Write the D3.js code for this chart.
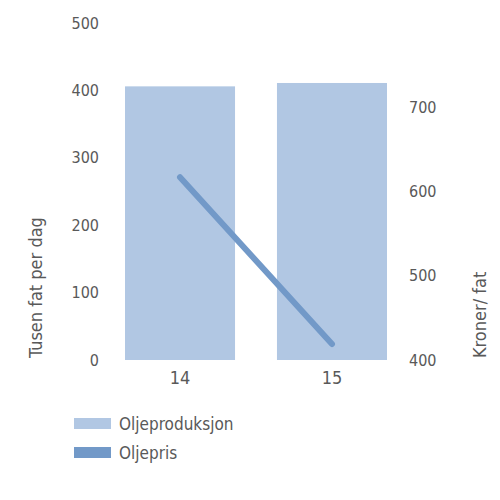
<!DOCTYPE html>
<html>
<head>
<meta charset="utf-8">
<script src="https://cdn.jsdelivr.net/npm/d3@7"></script>
<style>
  body { margin: 0; background: #fff; }
  text { font-family: "DejaVu Sans Condensed", "Roboto", sans-serif; fill: #595959; }
</style>
</head>
<body>
<svg width="500" height="500"></svg>
<script>
// data
var years = ["14", "15"];
var oljeproduksjon = [406, 411];
var oljepris = [617, 419];
var leftTicks = [0, 100, 200, 300, 400, 500];
var rightTicks = [400, 500, 600, 700];

var svg = d3.select("svg");

var barColor = "#b1c7e3";
var lineColor = "#7299c8";

var x = d3.scaleBand().domain(years).range([101, 411]).paddingInner(0.276).paddingOuter(0.158);
var yLeft = d3.scaleLinear().domain([0, 500]).range([360, 23]);
var yRight = d3.scaleLinear().domain([400, 800]).range([360, 23]);

// bars
svg.selectAll("rect.bar")
  .data(years)
  .enter()
  .append("rect")
  .attr("class", "bar")
  .attr("x", function(d) { return x(d); })
  .attr("width", x.bandwidth())
  .attr("y", function(d, i) { return yLeft(oljeproduksjon[i]); })
  .attr("height", function(d, i) { return yLeft(0) - yLeft(oljeproduksjon[i]); })
  .attr("fill", barColor);

// price line
var line = d3.line()
  .x(function(d, i) { return x(years[i]) + x.bandwidth() / 2; })
  .y(function(d) { return yRight(d); });

svg.append("path")
  .datum(oljepris)
  .attr("d", line)
  .attr("fill", "none")
  .attr("stroke", lineColor)
  .attr("stroke-width", 6)
  .attr("stroke-linecap", "round");

// left axis
var gl = svg.append("g")
  .attr("transform", "translate(99,0)")
  .call(d3.axisLeft(yLeft).tickValues(leftTicks).tickSize(0).tickPadding(0));
gl.select(".domain").remove();

// right axis
var gr = svg.append("g")
  .attr("transform", "translate(409,0)")
  .call(d3.axisRight(yRight).tickValues(rightTicks).tickSize(0).tickPadding(0));
gr.select(".domain").remove();

// bottom axis
var gb = svg.append("g")
  .attr("transform", "translate(0,371)")
  .call(d3.axisBottom(x).tickSize(0).tickPadding(0));
gb.select(".domain").remove();

svg.selectAll(".tick text")
  .attr("font-family", null)
  .style("font-size", "16px")
  .style("fill", "#595959");
gb.selectAll(".tick text").style("font-size", "18px").attr("dy", "0.71em");

// axis titles
svg.append("text")
  .attr("transform", "translate(42,358) rotate(-90)")
  .style("font-size", "18px")
  .text("Tusen fat per dag");

svg.append("text")
  .attr("transform", "translate(486,358) rotate(-90)")
  .style("font-size", "18px")
  .text("Kroner/ fat");

// legend
var legend = [
  { name: "Oljeproduksjon", color: barColor },
  { name: "Oljepris", color: lineColor }
];

var lg = svg.selectAll("g.legend")
  .data(legend)
  .enter()
  .append("g")
  .attr("class", "legend")
  .attr("transform", function(d, i) { return "translate(74," + (418 + i * 29) + ")"; });

lg.append("rect")
  .attr("width", 37)
  .attr("height", 11)
  .attr("fill", function(d) { return d.color; });

lg.append("text")
  .attr("x", 45)
  .attr("y", 6)
  .attr("dy", "0.35em")
  .style("font-size", "17px")
  .text(function(d) { return d.name; });
</script>
</body>
</html>
